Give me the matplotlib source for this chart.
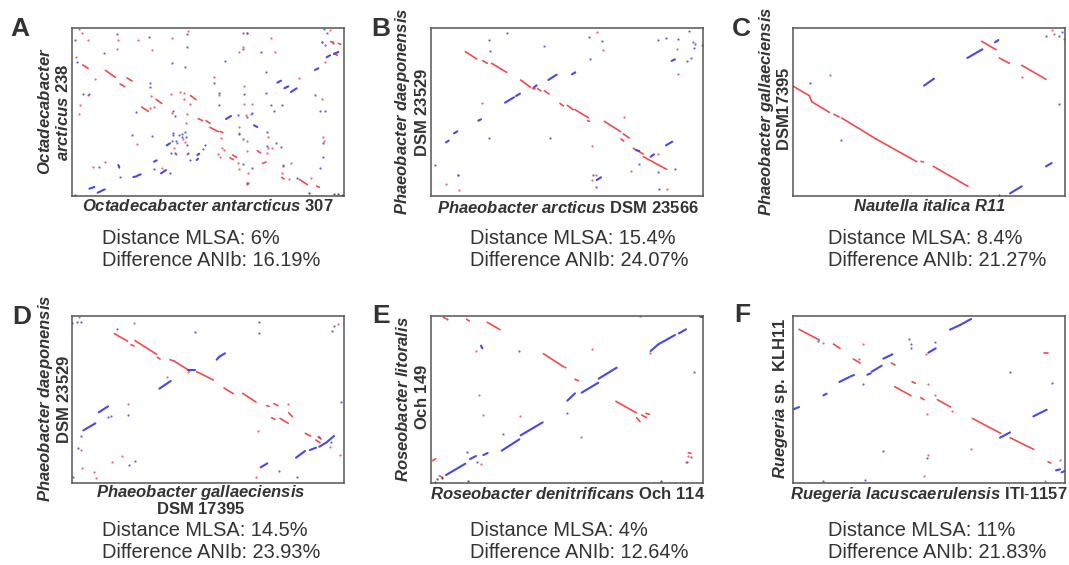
#!/usr/bin/env python3
"""Six synteny dot plots (panels A-F) with MLSA / ANIb captions."""

import matplotlib
matplotlib.use('Agg')
import matplotlib.pyplot as plt

plt.rcParams['font.family'] = ['Liberation Sans', 'DejaVu Sans']
plt.rcParams['mathtext.fontset'] = 'custom'
plt.rcParams['mathtext.rm'] = 'Liberation Sans'
plt.rcParams['mathtext.it'] = 'Liberation Sans:italic'
plt.rcParams['mathtext.bf'] = 'Liberation Sans:bold'
plt.rcParams['mathtext.bfit'] = 'Liberation Sans:italic:bold'

W, H = 1069, 565
RED = '#f04a4f'
BLUE = '#4a48e0'
BOX = '#555555'
TEXT = '#333333'

# Alignment runs as (x0, y0, x1, y1) and single matches as (x, y), in genome
# position units read off each panel's own scale
A_red_runs = [(248, 195, 264, 205), (316, 211, 346, 232), (381, 234, 396, 243), (360, 252, 374, 260),
              (425, 321, 445, 334), (468, 298, 485, 310), (572, 287, 588, 299), (595, 356, 608, 362),
              (618, 362, 630, 370), (630, 382, 655, 395), (660, 394, 668, 398), (690, 473, 700, 479),
              (698, 465, 710, 472), (772, 452, 782, 459), (788, 490, 798, 486), (845, 532, 852, 537),
              (898, 538, 922, 554), (950, 558, 958, 562), (992, 125, 1000, 127), (1002, 160, 1012, 166),
              (1015, 130, 1022, 133)]
A_blue_runs = [(268, 566, 283, 561), (293, 578, 314, 568), (400, 531, 410, 529), (412, 527, 422, 523),
               (462, 485, 470, 481), (483, 520, 498, 510), (500, 436, 510, 430), (590, 480, 594, 476),
               (592, 465, 598, 461), (678, 357, 693, 348), (762, 376, 772, 381), (832, 248, 843, 242),
               (853, 265, 865, 259), (873, 276, 890, 265), (945, 210, 955, 205), (980, 172, 990, 166),
               (1002, 162, 1015, 156), (355, 495, 358, 503)]
A_red_dots = [(238, 88), (246, 100), (264, 120), (227, 172), (352, 147), (355, 120), (413, 120), (455, 150),
              (517, 115), (563, 92), (740, 100), (728, 140), (716, 155), (813, 115), (825, 155), (990, 90),
              (965, 127), (975, 185), (286, 238), (265, 285), (239, 316), (238, 341), (453, 288), (449, 325),
              (462, 322), (512, 282), (540, 276), (552, 280), (552, 298), (570, 312), (515, 340), (562, 342),
              (558, 370), (411, 431), (530, 430), (523, 445), (550, 418), (555, 425), (528, 462), (561, 462),
              (643, 231), (657, 285), (731, 258), (731, 312), (738, 345), (752, 342), (755, 312), (716, 380),
              (716, 400), (740, 422), (740, 452), (663, 415), (667, 445), (672, 450), (653, 462), (660, 472),
              (714, 490), (717, 508), (743, 520), (740, 552), (745, 548), (800, 460), (805, 445), (803, 410),
              (815, 445), (850, 495), (872, 490), (845, 520), (868, 537), (932, 535), (897, 233), (965, 297),
              (970, 410), (972, 422), (278, 500), (316, 485), (487, 505)]
A_blue_dots = [(224, 120), (232, 185), (350, 103), (447, 110), (312, 158), (560, 102), (560, 140), (730, 100),
               (742, 100), (728, 148), (782, 155), (517, 190), (555, 200), (675, 183), (798, 215), (450, 250),
               (450, 262), (642, 248), (656, 280), (733, 282), (798, 278), (248, 282), (268, 282), (658, 316),
               (812, 315), (845, 316), (822, 333), (945, 285), (960, 333), (976, 332), (972, 88), (980, 100),
               (966, 127), (408, 335), (455, 408), (397, 405), (520, 332), (525, 347), (520, 398), (518, 405),
               (537, 406), (545, 403), (555, 397), (558, 410), (545, 412), (527, 422), (515, 422), (512, 460),
               (525, 460), (560, 435), (565, 460), (570, 480), (615, 435), (610, 447), (715, 345), (740, 350),
               (755, 340), (716, 403), (730, 418), (800, 395), (800, 437), (827, 428), (842, 440), (730, 492),
               (757, 505), (850, 497), (360, 532), (297, 500), (463, 508), (510, 520), (970, 428), (970, 472),
               (960, 505), (890, 533), (742, 548), (975, 135), (1000, 130)]
A_black_dots = [(225, 584), (926, 580), (1002, 582), (1015, 582), (1025, 585)]

B_red_runs = [(316, 155, 350, 177), (368, 182, 382, 190), (395, 190, 440, 217), (482, 240, 512, 262),
              (518, 265, 525, 267), (533, 266, 543, 273), (553, 272, 567, 282), (600, 310, 610, 318),
              (622, 316, 640, 329), (645, 329, 685, 353), (683, 362, 688, 364), (733, 364, 782, 395),
              (790, 402, 808, 414), (783, 417, 791, 423), (820, 445, 850, 462), (850, 470, 920, 508)]
B_blue_runs = [(435, 308, 462, 292), (468, 288, 480, 281), (522, 262, 530, 256), (565, 240, 590, 224),
               (636, 223, 646, 217), (258, 427, 266, 422), (282, 400, 292, 394), (355, 362, 363, 358),
               (935, 183, 945, 178), (918, 436, 937, 425), (872, 470, 882, 463), (710, 540, 723, 532),
               (828, 450, 838, 453)]
B_red_dots = [(367, 310), (711, 97), (728, 150), (951, 147), (953, 222), (791, 352), (696, 437), (697, 541),
              (709, 525), (813, 514), (894, 463), (257, 552), (293, 525), (298, 571), (920, 568)]
B_blue_dots = [(441, 99), (388, 120), (391, 152), (552, 138), (687, 111), (727, 123), (690, 177), (895, 120),
               (919, 113), (955, 117), (987, 93), (1000, 125), (1005, 133), (1001, 143), (1027, 135), (993, 173),
               (981, 182), (388, 413), (570, 415), (226, 494), (293, 524), (836, 492), (893, 516), (945, 507),
               (700, 525), (708, 562), (897, 568)]

C_red_runs = [(218, 258, 268, 287), (268, 287, 275, 305), (275, 305, 328, 337), (342, 343, 357, 351),
              (365, 354, 470, 418), (470, 418, 590, 485), (603, 484, 610, 486), (640, 499, 744, 559),
              (785, 124, 828, 149), (838, 174, 868, 190), (905, 196, 978, 238)]
C_blue_runs = [(612, 257, 642, 236), (742, 174, 787, 148), (825, 127, 835, 120), (870, 580, 905, 559),
               (978, 499, 995, 489)]
C_red_dots = [(331, 224), (905, 231), (995, 90), (1002, 103), (1032, 118)]
C_blue_dots = [(270, 248), (362, 419), (978, 108), (1016, 107), (1026, 95), (1016, 312)]
C_black_dots = [(836, 584)]

D_red_runs = [(343, 146, 382, 168), (393, 179, 402, 183), (405, 167, 470, 208), (472, 217, 480, 222),
              (510, 224, 522, 228), (522, 228, 570, 258), (590, 260, 640, 285), (672, 309, 700, 326),
              (728, 325, 768, 351), (800, 362, 807, 364), (822, 356, 834, 362), (815, 398, 825, 403),
              (840, 400, 865, 415), (866, 383, 877, 395), (916, 445, 932, 453), (948, 465, 960, 473),
              (955, 455, 963, 462)]
D_blue_runs = [(478, 311, 512, 288), (296, 382, 324, 364), (250, 436, 286, 415), (650, 224, 658, 215),
               (658, 215, 675, 205), (565, 255, 585, 255), (782, 547, 802, 535), (888, 518, 915, 498),
               (930, 495, 948, 488), (958, 485, 980, 472), (982, 470, 1002, 453)]
D_red_dots = [(238, 97), (402, 115), (1015, 118), (500, 276), (384, 356), (863, 356), (774, 437), (242, 495),
              (245, 548), (282, 560), (288, 578), (336, 530), (365, 514), (769, 577), (990, 485), (1020, 510),
              (563, 260)]
D_blue_dots = [(217, 115), (232, 110), (242, 112), (352, 131), (584, 142), (778, 112), (778, 143), (1003, 122),
               (997, 137), (1022, 350), (325, 397), (333, 393), (385, 390), (242, 452), (235, 488), (388, 541),
               (406, 528), (837, 558), (891, 575), (218, 576), (993, 472), (957, 455)]

E_red_runs = [(250, 97, 258, 101), (320, 103, 328, 108), (382, 112, 420, 134), (550, 206, 612, 246),
              (645, 283, 655, 287), (768, 349, 830, 384), (830, 398, 840, 410), (845, 390, 860, 398),
              (858, 385, 868, 388), (218, 527, 227, 521), (238, 572, 248, 578), (985, 503, 993, 505)]
E_blue_runs = [(258, 570, 316, 536), (330, 522, 348, 513), (370, 510, 383, 504), (425, 497, 478, 463),
               (482, 451, 548, 412), (622, 347, 645, 325), (665, 323, 715, 293), (716, 281, 770, 248),
               (872, 198, 895, 178), (895, 178, 945, 150), (957, 145, 978, 133), (1020, 95, 1030, 97),
               (363, 182, 367, 190)]
E_red_dots = [(347, 199), (696, 193), (615, 246), (871, 205), (356, 329), (370, 390), (480, 393), (663, 457),
              (363, 536), (978, 531), (985, 512)]
E_blue_dots = [(840, 94), (477, 198), (1002, 260), (620, 384), (428, 446), (320, 500), (350, 530), (980, 531),
               (993, 515), (262, 103)]
E_black_dots = [(225, 590), (232, 582), (247, 580), (323, 588), (903, 589)]

F_red_runs = [(237, 133, 298, 165), (340, 177, 360, 190), (400, 222, 420, 234), (514, 234, 525, 240),
              (524, 305, 573, 332), (576, 290, 586, 295), (602, 338, 612, 344), (652, 344, 692, 366),
              (757, 400, 842, 445), (870, 458, 941, 493), (972, 203, 983, 203), (984, 530, 992, 534)]
F_blue_runs = [(218, 374, 237, 366), (310, 331, 320, 326), (358, 291, 388, 276), (392, 274, 402, 270),
               (442, 269, 452, 265), (455, 260, 485, 242), (490, 221, 517, 208), (625, 203, 647, 190),
               (690, 134, 720, 120), (720, 120, 753, 102), (940, 394, 980, 374), (840, 458, 870, 442),
               (1008, 556, 1020, 553), (1025, 562, 1034, 558)]
F_red_dots = [(310, 175), (428, 178), (418, 221), (617, 208), (625, 297), (645, 331), (622, 388), (697, 377),
              (753, 492), (623, 510), (1020, 524), (613, 572), (975, 589)]
F_blue_dots = [(295, 167), (568, 163), (574, 176), (574, 190), (646, 170), (429, 298), (871, 261), (997, 295),
               (488, 497), (621, 518), (308, 589), (435, 584)]

panel_letters = ['A', 'B', 'C', 'D', 'E', 'F']
mlsa_distance = ['6%', '15.4%', '8.4%', '14.5%', '4%', '11%']
anib_difference = ['16.19%', '24.07%', '21.27%', '23.93%', '12.64%', '21.83%']


def bi(s):
    return r'$\mathbfit{' + s.replace(' ', r'\ ') + '}$'


def bf(s):
    return r'$\mathbf{' + s.replace(' ', r'\ ').replace('-', r'\text{-}') + '}$'


def put(fig, px, py, s, **kw):
    fig.text(px / W, 1 - py / H, s, color=TEXT, **kw)


def draw_panel(fig, rect, xlim, ylim, red_runs, blue_runs, red_dots, blue_dots, black_dots=()):
    left, top, right, bottom = rect
    ax = fig.add_axes([left / W, 1 - bottom / H, (right - left) / W, (bottom - top) / H])
    ax.set_xlim(*xlim)
    ax.set_ylim(*ylim)
    ax.set_xticks([])
    ax.set_yticks([])
    for s in ax.spines.values():
        s.set_color(BOX)
        s.set_linewidth(1.1)
    for runs, col, lw in ((red_runs, RED, 1.2), (blue_runs, BLUE, 1.5)):
        for x0, y0, x1, y1 in runs:
            ax.plot([x0, x1], [y0, y1], color=col, lw=lw, solid_capstyle='round')
    for dots, col in ((red_dots, RED), (blue_dots, BLUE), (black_dots, '#333333')):
        if len(dots):
            ax.plot([d[0] for d in dots], [d[1] for d in dots], ls='none', marker='o',
                    ms=1.6, mew=0, color=col, alpha=0.85)
    return ax


fig = plt.figure(figsize=(W / 100, H / 100), dpi=100)

top_y = (28.3, 195.7)
low_y = (316, 482.7)
col_x = [(71.7, 344.3), (431, 703.3), (792.7, 1064.7)]
top_lim = (587, 85)
low_lim = (593, 93)

draw_panel(fig, (col_x[0][0], top_y[0], col_x[0][1], top_y[1]), (215, 1033), top_lim,
           A_red_runs, A_blue_runs, A_red_dots, A_blue_dots, A_black_dots)
draw_panel(fig, (col_x[1][0], top_y[0], col_x[1][1], top_y[1]), (213, 1030), top_lim,
           B_red_runs, B_blue_runs, B_red_dots, B_blue_dots)
draw_panel(fig, (col_x[2][0], top_y[0], col_x[2][1], top_y[1]), (218, 1034), top_lim,
           C_red_runs, C_blue_runs, C_red_dots, C_blue_dots, C_black_dots)
draw_panel(fig, (col_x[0][0], low_y[0], col_x[0][1], low_y[1]), (215, 1033), low_lim,
           D_red_runs, D_blue_runs, D_red_dots, D_blue_dots)
draw_panel(fig, (col_x[1][0], low_y[0], col_x[1][1], low_y[1]), (213, 1030), low_lim,
           E_red_runs, E_blue_runs, E_red_dots, E_blue_dots, E_black_dots)
draw_panel(fig, (col_x[2][0], low_y[0], col_x[2][1], low_y[1]), (218, 1034), low_lim,
           F_red_runs, F_blue_runs, F_red_dots, F_blue_dots)

# panel letters
letter_x = [10, 371, 732, 12, 372, 734]
letter_y = [29, 29, 29, 317, 316, 315]
for s, x, y in zip(panel_letters, letter_x, letter_y):
    put(fig, x, y, s, fontsize=19, fontweight='bold', ha='left', va='center')

# captions
cap_x = [102, 470, 828, 102, 470, 828]
cap_y = [238, 238, 238, 531, 531, 531]
for m, a, x, y in zip(mlsa_distance, anib_difference, cap_x, cap_y):
    put(fig, x, y, f'Distance MLSA: {m}', fontsize=14.4, ha='left', va='center')
    put(fig, x, y + 22, f'Difference ANIb: {a}', fontsize=14.4, ha='left', va='center')

# x labels
lab = dict(fontsize=12, ha='center', va='center')
put(fig, 208, 206, bi('Octadecabacter antarcticus') + bf(' 307'), **lab)
put(fig, 568, 208, bi('Phaeobacter arcticus') + bf(' DSM 23566'), **lab)
put(fig, 929, 206, bi('Nautella italica R11'), **lab)
put(fig, 201, 493, bi('Phaeobacter gallaeciensis'), **lab)
put(fig, 201, 509, bf('DSM 17395'), **lab)
put(fig, 567.5, 494, bi('Roseobacter denitrificans') + bf(' Och 114'), **lab)
put(fig, 929, 494, bi('Ruegeria lacuscaerulensis') + bf(' ITI-1157'), **lab)

# y labels
rot = dict(fontsize=12, ha='center', va='center', rotation=90)
put(fig, 45, 111, bi('Octadecabacter'), **rot)
put(fig, 63, 112, bi('arcticus') + bf(' 238'), **rot)
put(fig, 403, 111, bi('Phaeobacter daeponensis'), **rot)
put(fig, 422, 112, bf('DSM 23529'), **rot)
put(fig, 767, 111, bi('Phaeobacter gallaeciensis'), **rot)
put(fig, 784, 109, bf('DSM17395'), **rot)
put(fig, 46, 398, bi('Phaeobacter daeponensis'), **rot)
put(fig, 64, 399, bf('DSM 23529'), **rot)
put(fig, 403, 399, bi('Roseobacter litoralis'), **rot)
put(fig, 422, 397, bf('Och 149'), **rot)
put(fig, 780, 398, bi('Ruegeria') + bf(' sp. KLH11'), **rot)

fig.savefig('out.png', dpi=100)
